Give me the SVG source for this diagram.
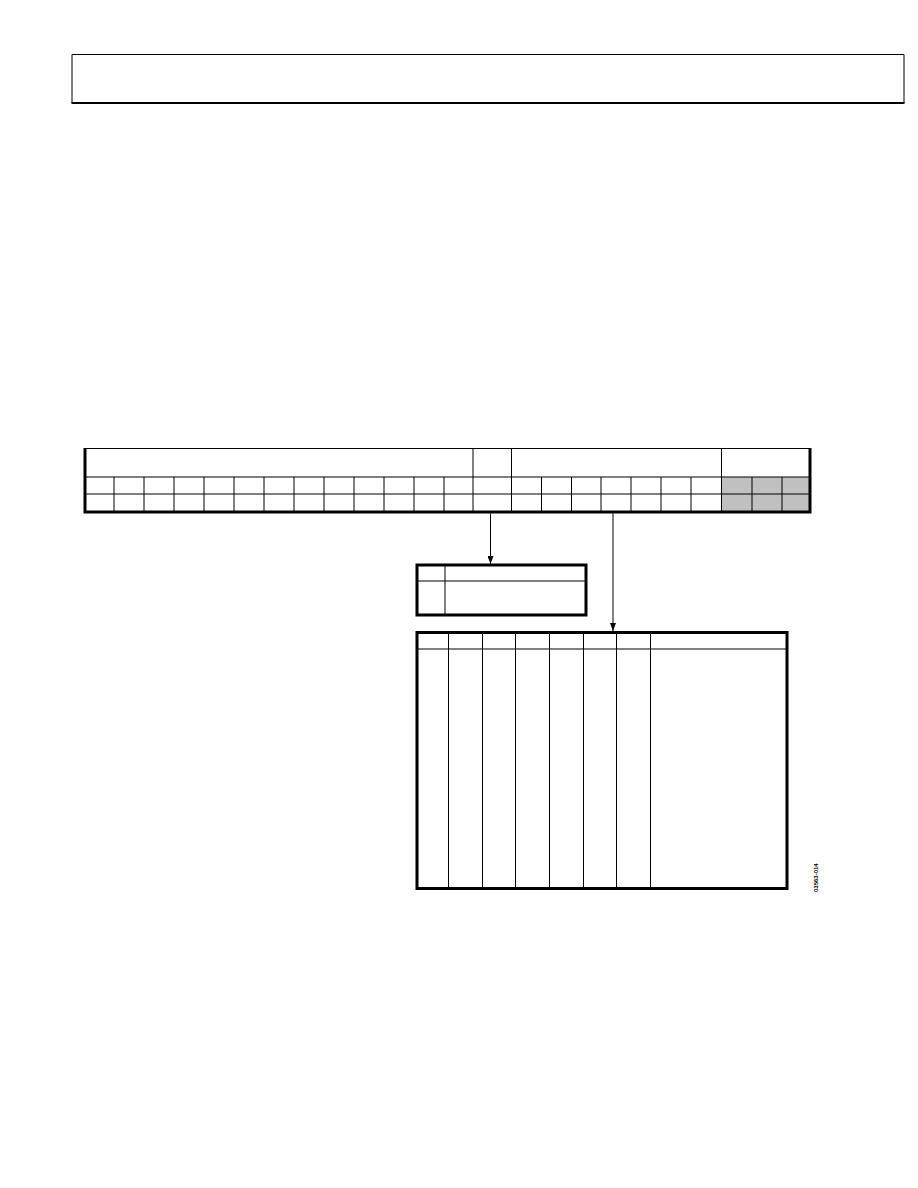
<svg xmlns="http://www.w3.org/2000/svg" width="918" height="1188" viewBox="0 0 918 1188">
<style>
.thin{stroke:#000;stroke-width:1;fill:none}
.thick{stroke:#000;stroke-width:3;fill:none}
.gray{fill:#c0c0c0;stroke:none}
.conn{stroke:#000;stroke-width:1;fill:none}
.code{font-family:"Liberation Sans",Arial,sans-serif;font-size:6px;font-weight:bold;fill:#000}
</style>
<defs>
<marker id="arr" markerWidth="8" markerHeight="6" refX="8" refY="3" orient="auto" markerUnits="userSpaceOnUse" viewBox="0 0 8 6">
<path d="M0,0 L8,3 L0,6 Z" fill="#000"/>
</marker>
</defs>
<g id="header-box">
<path class="thin" d="M72,103 V54.5 H904 V103"/>
<line x1="71.5" y1="103" x2="904.5" y2="103" stroke="#000" stroke-width="2"/>
</g>
<g id="register">
<rect class="gray" x="721.5" y="477" width="89.5" height="35"/>
<path class="thin" d="M84,477 H811 M84,494 H811 M473,448 V512 M511.5,448 V512 M721.5,448 V512
M114,477V512 M144,477V512 M174,477V512 M204,477V512 M234,477V512 M264,477V512 M294,477V512 M324,477V512 M354,477V512 M384,477V512 M414,477V512 M444,477V512
M541.5,477V512 M571.5,477V512 M601,477V512 M631,477V512 M661,477V512 M691,477V512 M752,477V512 M782,477V512"/>
<path class="thin" d="M84,448.5 H811"/>
<path class="thick" d="M85,448 V512 H810 V448"/>
</g>
<g id="connectors">
<line class="conn" x1="490.5" y1="513.5" x2="490.5" y2="564" marker-end="url(#arr)"/>
<line class="conn" x1="613" y1="513.5" x2="613" y2="631" marker-end="url(#arr)"/>
</g>
<g id="small-table">
<path class="thin" d="M417,581 H586 M445,565 V615"/>
<rect class="thick" x="417" y="565" width="169" height="50"/>
</g>
<g id="big-table">
<path class="thin" d="M417,649 H787 M448.5,632 V888 M482.5,632 V888 M515.5,632 V888 M549.5,632 V888 M583.5,632 V888 M616.5,632 V888 M650.5,632 V888"/>
<rect class="thick" x="417" y="632.5" width="370" height="256"/>
</g>
<text class="code" transform="translate(818,892) rotate(-90)">03563-014</text>
</svg>
